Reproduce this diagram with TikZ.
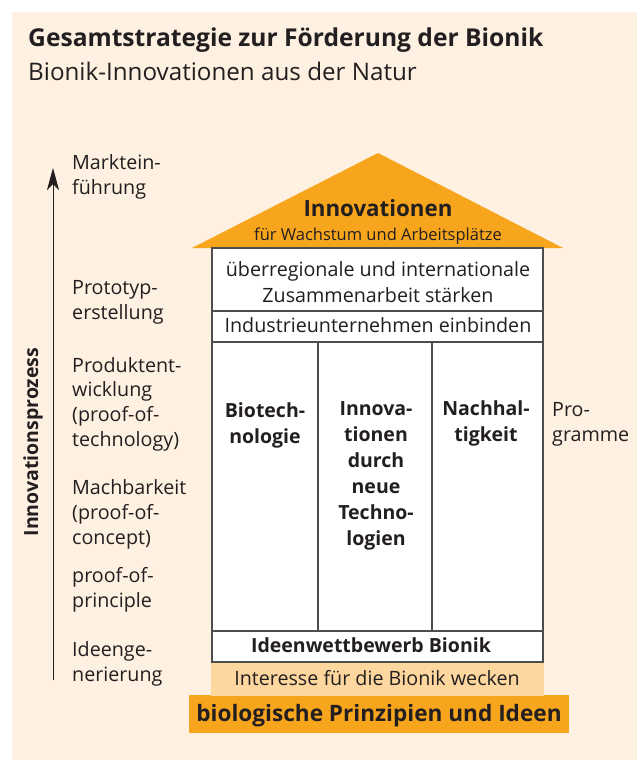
\documentclass[tikz,border=0pt]{standalone}
\usepackage{fontspec}
\setmainfont{Open Sans}
\usetikzlibrary{arrows.meta}

\definecolor{bg}{HTML}{FEF1E1}
\definecolor{bionikorange}{HTML}{F7A51C}
\definecolor{lightorange}{HTML}{FED79E}
\definecolor{ink}{HTML}{231F20}
\definecolor{wallgray}{HTML}{4D4D4F}

\tikzset{
  plain/.style={inner sep=0pt, text=ink},
  stage/.style={plain, anchor=base west, align=left, font=\fontsize{19.7}{24.6}\selectfont},
  boxtext/.style={plain, anchor=base, align=center, font=\fontsize{19.7}{26}\selectfont},
  pillar/.style={plain, anchor=base, align=center, font=\bfseries\fontsize{19.5}{25.9}\selectfont},
  wall/.style={draw=wallgray, line width=1.4pt}
}

\begin{document}
\begin{tikzpicture}[x=1pt, y=-1pt]
    \useasboundingbox (0,0) rectangle (637,760);
    \fill[bg] (12,12) rectangle (637,760);

    % Title
    \node[plain, anchor=base west, font=\bfseries\fontsize{24.6}{28}\selectfont] (title) at (28,47) {Gesamtstrategie zur Förderung der Bionik};
    \node[plain, anchor=base west, font=\fontsize{24.2}{28}\selectfont] (subtitle) at (28,81) {Bionik-Innovationen aus der Natur};

    % Roof
    \fill[bionikorange] (192,248) -- (378,153) -- (563,248) -- cycle;
    \node[boxtext, font=\bfseries\fontsize{22.3}{26}\selectfont] (innov) at (378,216) {Innovationen};
    \node[boxtext, font=\fontsize{16.5}{20}\selectfont] (wachstum) at (378,240) {für Wachstum und Arbeitsplätze};

    % Foundation
    \fill[bionikorange] (189,695) rectangle (569,733);
    \fill[lightorange] (211,662) rectangle (544,696);
    \node[boxtext, font=\bfseries\fontsize{22.6}{26}\selectfont] (prinzipien) at (379,721) {biologische Prinzipien und Ideen};
    \node[boxtext] (interesse) at (377,685) {Interesse für die Bionik wecken};

    % House
    \fill[white] (212,248) rectangle (543,662);
    \draw[wall] (212,311) -- (543,311);
    \draw[wall] (212,342) -- (543,342);
    \draw[wall] (212,631) -- (543,631);
    \draw[wall] (318,342) -- (318,631);
    \draw[wall] (432,342) -- (432,631);
    \draw[wall] (212,248) rectangle (543,662);

    \node[boxtext] (kooperation) at (378,302) {überregionale und internationale\\Zusammenarbeit stärken};
    \node[boxtext] (industrie) at (378,332) {Industrieunternehmen einbinden};
    \node[pillar] (biotech) at (265,443) {Biotech-\\nologie};
    \node[pillar] (technologien) at (376,545) {Innova-\\tionen\\durch\\neue\\Techno-\\logien};
    \node[pillar] (nachhalt) at (486,441) {Nachhal-\\tigkeit};
    \node[pillar] (wettbewerb) at (371,652) {Ideenwettbewerb Bionik};
    \node[stage] (programme) at (552,441) {Pro-\\gramme};

    % Innovation process
    \coordinate (procstart) at (53,680);
    \coordinate (procend) at (53,168);
    \draw[-{Stealth[length=22pt, width=12pt, inset=6pt]}, line width=0.9pt, ink] (procstart) -- (procend);
    \node[plain, rotate=90, font=\bfseries\fontsize{19.5}{24}\selectfont] (prozess) at (33,442) {Innovationsprozess};

    \node[stage] (markt) at (72,194) {Marktein-\\führung};
    \node[stage] (prototyp) at (72,319) {Prototyp-\\erstellung};
    \node[stage] (produkt) at (72,446) {Produktent-\\wicklung\\(proof-of-\\technology)};
    \node[stage] (machbar) at (72,544) {Machbarkeit\\(proof-of-\\concept)};
    \node[stage] (principle) at (72,607) {proof-of-\\principle};
    \node[stage] (ideen) at (72,681) {Ideenge-\\nerierung};
\end{tikzpicture}
\end{document}
